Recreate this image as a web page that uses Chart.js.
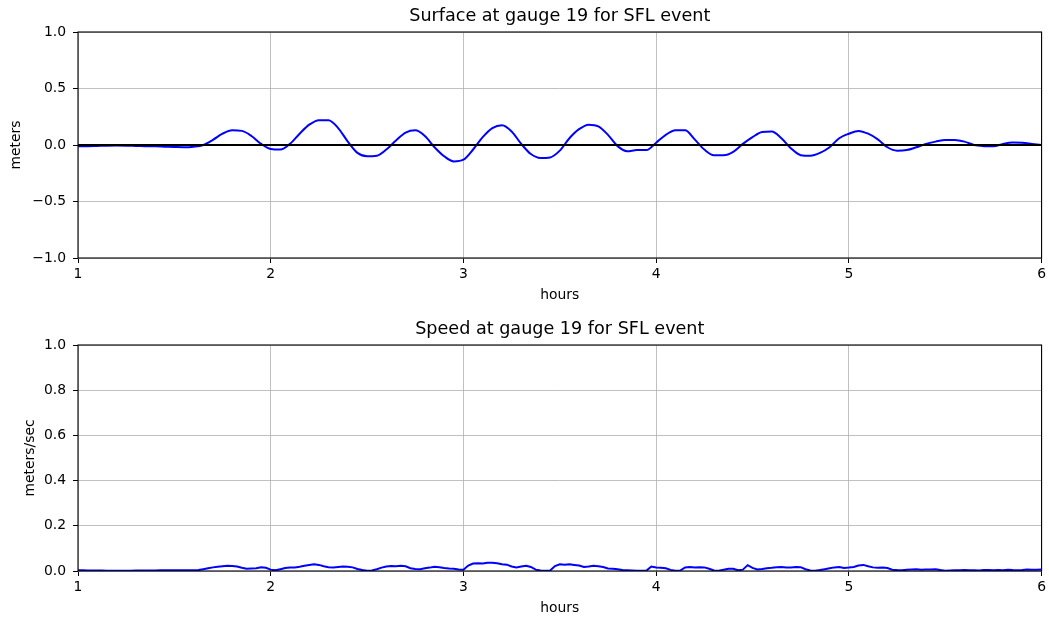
<!DOCTYPE html>
<html>
<head>
<meta charset="utf-8">
<script src="https://cdn.jsdelivr.net/npm/chart.js@4.4.1/dist/chart.umd.min.js"></script>
<style>
  html, body { margin: 0; padding: 0; background: #fff; overflow: hidden; width: 1049px; height: 619px; }
  .panel { position: absolute; left: 0; width: 1049px; height: 313px; }
  #panelSurface { top: 0; }
  #panelSpeed { top: 313px; }
</style>
</head>
<body>
<div class="panel" id="panelSurface"><canvas id="surfaceCanvas" width="1049" height="313"></canvas></div>
<div class="panel" id="panelSpeed"><canvas id="speedCanvas" width="1049" height="313"></canvas></div>
<script>
// Gauge 19, SFL event: sea surface elevation (m), sampled every 0.05 h from 1 h to 6 h
const surfaceMeters = [
  -0.010, -0.010, -0.008, -0.006, -0.005, -0.006, -0.008, -0.010, -0.012, -0.015,
  -0.018, -0.020, -0.015,  0.000,  0.045,  0.100,  0.130,  0.125,  0.080,  0.010,
  -0.035, -0.040,  0.010,  0.100,  0.180,  0.220,  0.220,  0.150,  0.030, -0.070,
  -0.100, -0.095, -0.040,  0.040,  0.110,  0.130,  0.080, -0.020, -0.100, -0.145,
  -0.130, -0.040,  0.070,  0.150,  0.175,  0.120,  0.010, -0.080, -0.115, -0.110,
  -0.050,  0.060,  0.140,  0.180,  0.165,  0.090, -0.010, -0.055, -0.045, -0.045,
   0.020,  0.090,  0.130,  0.130,  0.050, -0.040, -0.090, -0.090, -0.060,  0.010,
   0.070,  0.115,  0.120,  0.060, -0.030, -0.090, -0.095, -0.070, -0.020,  0.060,
   0.100,  0.125,  0.100,  0.050, -0.020, -0.050, -0.045, -0.020,  0.010,  0.030,
   0.045,  0.045,  0.030,  0.000, -0.010, -0.012,  0.010,  0.022,  0.020,  0.010,
   0.000
];

// Gauge 19, SFL event: current speed (m/s), sampled every 0.025 h from 1 h to 6 h
const speedMetersPerSec = [
  0.003, 0.003, 0.002, 0.002, 0.002, 0.002, 0.001, 0.001, 0.001, 0.001,
  0.001, 0.001, 0.002, 0.002, 0.002, 0.002, 0.002, 0.003, 0.003, 0.003,
  0.003, 0.003, 0.003, 0.003, 0.003, 0.004, 0.008, 0.012, 0.016, 0.019,
  0.021, 0.023, 0.022, 0.020, 0.014, 0.010, 0.011, 0.012, 0.017, 0.014,
  0.006, 0.003, 0.008, 0.013, 0.015, 0.016, 0.019, 0.023, 0.027, 0.030,
  0.027, 0.021, 0.017, 0.015, 0.018, 0.020, 0.019, 0.016, 0.009, 0.004,
  0.001, 0.002, 0.008, 0.015, 0.020, 0.022, 0.021, 0.023, 0.021, 0.012,
  0.009, 0.008, 0.012, 0.015, 0.019, 0.017, 0.013, 0.011, 0.010, 0.007,
  0.006, 0.024, 0.033, 0.034, 0.033, 0.036, 0.037, 0.034, 0.030, 0.028,
  0.020, 0.016, 0.020, 0.023, 0.018, 0.006, 0.002, 0.001, 0.002, 0.022,
  0.030, 0.028, 0.030, 0.027, 0.024, 0.018, 0.020, 0.023, 0.021, 0.018,
  0.011, 0.010, 0.008, 0.004, 0.003, 0.002, 0.001, 0.001, 0.002, 0.020,
  0.016, 0.014, 0.012, 0.005, 0.001, 0.002, 0.016, 0.018, 0.015, 0.017,
  0.016, 0.010, 0.002, 0.001, 0.006, 0.010, 0.010, 0.003, 0.006, 0.026,
  0.014, 0.007, 0.009, 0.012, 0.014, 0.017, 0.018, 0.016, 0.015, 0.018,
  0.017, 0.008, 0.002, 0.001, 0.004, 0.008, 0.012, 0.016, 0.018, 0.013,
  0.015, 0.018, 0.024, 0.027, 0.021, 0.016, 0.014, 0.015, 0.013, 0.006,
  0.004, 0.003, 0.005, 0.007, 0.008, 0.006, 0.007, 0.007, 0.008, 0.004,
  0.001, 0.002, 0.003, 0.003, 0.004, 0.003, 0.003, 0.002, 0.004, 0.004,
  0.003, 0.004, 0.003, 0.006, 0.004, 0.003, 0.004, 0.007, 0.006, 0.005,
  0.007
];

// Reference level for the surface panel
const zeroLineHours = [1, 6];
const zeroLineMeters = [0, 0];

// Axis ranges and tick steps
const hoursRange = [1, 6];
const surfaceRange = [-1.0, 1.0];
const speedRange = [0.0, 1.0];
const surfaceTickStep = 0.5;
const speedTickStep = 0.2;

const SURFACE_STEP_H = 0.05;
const SPEED_STEP_H = 0.025;
const surfaceHours = surfaceMeters.map((_, i) => hoursRange[0] + i * SURFACE_STEP_H);
const speedHours = speedMetersPerSec.map((_, i) => hoursRange[0] + i * SPEED_STEP_H);

const toPoints = (xs, ys) => xs.map((x, i) => ({ x: x, y: ys[i] }));

const FONT = 'DejaVu Sans';
const TICK_SIZE = 13.9;
const TITLE_SIZE = 17.6;
const PANEL_H = 313;
const AREA_TOP = 32;
const AREA_BOTTOM = 258;
const AREA_LEFT = 78;
const TITLE_BASELINE = 21;

// Closed box around the plotting area
const frame = {
  id: 'frame',
  afterDatasetsDraw(chart) {
    const a = chart.chartArea;
    const ctx = chart.ctx;
    ctx.save();
    ctx.strokeStyle = '#000';
    ctx.lineWidth = 1.1;
    ctx.strokeRect(a.left, a.top, a.right - a.left, a.bottom - a.top);
    ctx.restore();
  }
};

// Panel title, centred over the plotting area
const panelTitle = {
  id: 'panelTitle',
  afterDraw(chart, args, opts) {
    const a = chart.chartArea;
    const ctx = chart.ctx;
    ctx.save();
    ctx.fillStyle = '#000';
    ctx.font = TITLE_SIZE + 'px "' + FONT + '"';
    ctx.textAlign = 'center';
    ctx.textBaseline = 'alphabetic';
    ctx.fillText(opts.text, (a.left + a.right) / 2, TITLE_BASELINE);
    ctx.restore();
  }
};

const minusSign = v => v.toFixed(1).replace('-', '\u2212');

function makePanel(canvasId, titleText, yLabel, yRange, yStep, yTitlePad, datasets) {
  return new Chart(document.getElementById(canvasId), {
    type: 'line',
    data: { datasets: datasets },
    plugins: [frame, panelTitle],
    options: {
      responsive: false,
      animation: false,
      events: [],
      layout: { padding: { left: 0, right: 7, top: AREA_TOP, bottom: 0 } },
      plugins: {
        legend: { display: false },
        tooltip: { enabled: false },
        title: { display: false },
        panelTitle: { text: titleText }
      },
      elements: { point: { radius: 0 } },
      scales: {
        x: {
          type: 'linear',
          min: hoursRange[0],
          max: hoursRange[1],
          afterFit(s) { s.height = PANEL_H - AREA_BOTTOM; },
          ticks: {
            stepSize: 1,
            color: '#000',
            padding: 3,
            font: { family: FONT, size: TICK_SIZE },
            callback: v => String(v)
          },
          grid: { color: '#b0b0b0', lineWidth: 0.8, tickLength: 5, tickColor: '#000', tickWidth: 1 },
          border: { display: false },
          title: {
            display: true,
            text: 'hours',
            color: '#000',
            font: { family: FONT, size: TICK_SIZE, lineHeight: 1.2 },
            padding: { top: 0, bottom: 9 }
          }
        },
        y: {
          type: 'linear',
          min: yRange[0],
          max: yRange[1],
          afterFit(s) { s.width = AREA_LEFT; },
          ticks: {
            stepSize: yStep,
            color: '#000',
            padding: 7,
            font: { family: FONT, size: TICK_SIZE },
            callback: v => minusSign(v)
          },
          grid: { color: '#b0b0b0', lineWidth: 0.8, tickLength: 5, tickColor: '#000', tickWidth: 1 },
          border: { display: false },
          title: {
            display: true,
            text: yLabel,
            color: '#000',
            font: { family: FONT, size: TICK_SIZE, lineHeight: 1.2 },
            padding: { top: yTitlePad, bottom: 0 }
          }
        }
      }
    }
  });
}

makePanel('surfaceCanvas', 'Surface at gauge 19 for SFL event', 'meters', surfaceRange, surfaceTickStep, 8, [
  {
    data: toPoints(zeroLineHours, zeroLineMeters),
    borderColor: '#000000',
    borderWidth: 2,
    tension: 0
  },
  {
    data: toPoints(surfaceHours, surfaceMeters),
    borderColor: '#0000ff',
    borderWidth: 2,
    cubicInterpolationMode: 'monotone'
  }
]);

makePanel('speedCanvas', 'Speed at gauge 19 for SFL event', 'meters/sec', speedRange, speedTickStep, 22, [
  {
    data: toPoints(speedHours, speedMetersPerSec),
    borderColor: '#0000ff',
    borderWidth: 2,
    tension: 0
  }
]);
</script>
</body>
</html>
